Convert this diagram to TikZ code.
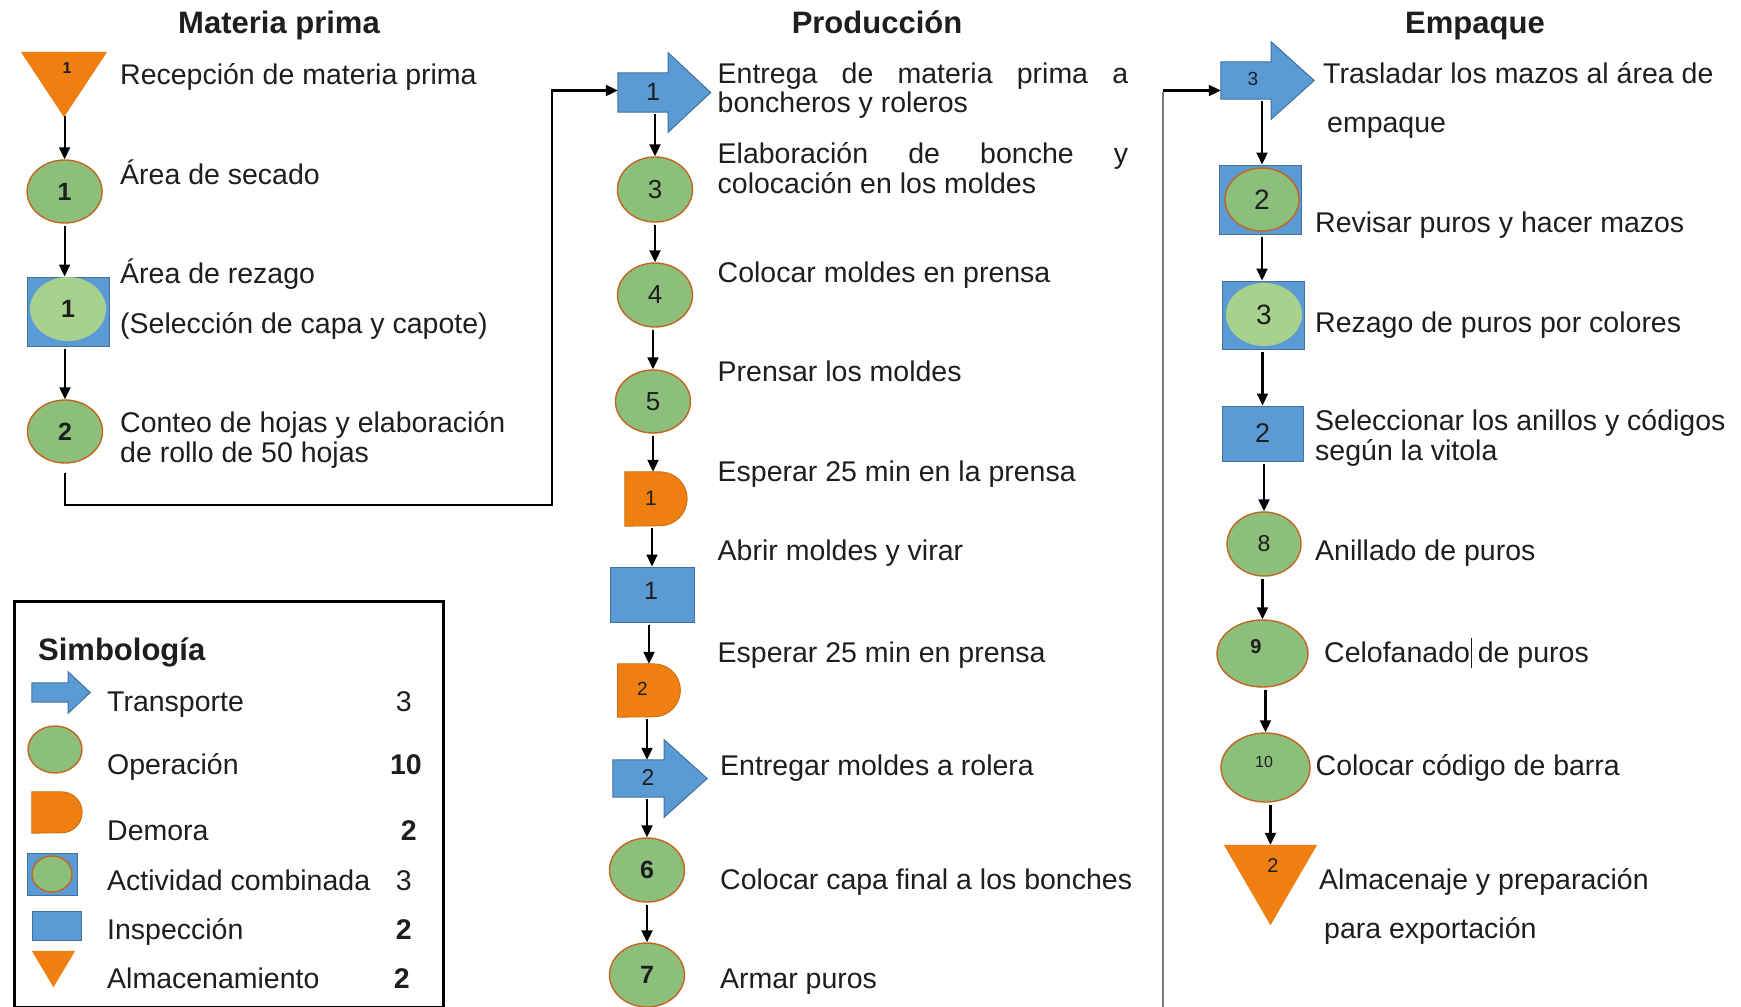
\documentclass[tikz,border=0pt]{standalone}
\usepackage{fontspec}
\setmainfont{Liberation Sans}
\usetikzlibrary{arrows.meta,shapes.geometric}

\definecolor{opgreen}{HTML}{8DBF7C}
\definecolor{lightgreen}{HTML}{A9D18E}
\definecolor{tblue}{HTML}{5B9BD5}
\definecolor{tblueline}{HTML}{41719C}
\definecolor{dorange}{HTML}{EE7F10}
\definecolor{brownline}{HTML}{C2651F}
\definecolor{linkgray}{HTML}{7A7A7A}
\definecolor{ink}{HTML}{1E1E1E}

\pgfdeclarelayer{back}
\pgfsetlayers{back,main}

\newcommand\fsz[1]{\fontsize{#1}{#1}\selectfont}
% block arrow (transport) around a body node: #1 node, #2 head extent, #3 head length
\newcommand\transportoutline[3]{%
  \begin{pgfonlayer}{back}
  \path[tshape] (#1.south west) -- (#1.north west) -- (#1.north east)
    -- ([yshift=#2]#1.north east) -- ([xshift=#3]#1.east)
    -- ([yshift=-#2]#1.south east) -- (#1.south east) -- cycle;
  \end{pgfonlayer}}
% delay symbol: flat left part, half disc on the right; #2 radius
\newcommand\delayoutline[2]{%
  \begin{pgfonlayer}{back}
  \path[dshape] (#1.north west) -- ([xshift=-#2]#1.north east)
    arc[start angle=90,end angle=-90,radius=#2] -- (#1.south west) -- cycle;
  \end{pgfonlayer}}
% storage symbol: downward triangle filling the node box
\newcommand\storageoutline[1]{%
  \begin{pgfonlayer}{back}
  \path[sshape] (#1.north west) -- (#1.north east) -- (#1.south) -- cycle;
  \end{pgfonlayer}}

\begin{document}
\begin{tikzpicture}[x=1pt,y=-1pt,
  every node/.style={inner sep=0pt, text=ink},
  tipstyle/.style={-{Triangle[length=12pt,width=11pt]}},
  flow/.style={tipstyle, line width=2.1pt, shorten <=2pt},
  opnode/.style={ellipse, fill=opgreen, draw=brownline, line width=1.4pt},
  lightop/.style={ellipse, fill=lightgreen},
  inspnode/.style={rectangle, fill=tblue, draw=tblueline, line width=1pt},
  combbox/.style={rectangle, fill=tblue, draw=tblueline, line width=1pt},
  tshape/.style={fill=tblue, draw=tblueline, line width=1pt, line join=miter},
  dshape/.style={fill=dorange, draw=dorange!85!black, line width=0.8pt},
  sshape/.style={fill=dorange},
  lbl/.style={anchor=base west, font=\fsz{28.5}},
  hdr/.style={anchor=base, font=\bfseries\fsz{31}},
  cnt/.style={anchor=base east, font=\fsz{28.5}},
]
\useasboundingbox (0,0) rectangle (1741,1007);
\begin{pgfonlayer}{back}
  \fill[white] (0,0) rectangle (1741,1007);
\end{pgfonlayer}

% ---------- headings ----------
\node[hdr] (hmp) at (279,33) {Materia prima};
\node[hdr] (hpr) at (877,33) {Producción};
\node[hdr] (hem) at (1475,33) {Empaque};

% ---------- Materia prima ----------
\node[minimum width=86, minimum height=65] (s1) at (64,84.5) {};
\storageoutline{s1}
\node[font=\bfseries\fsz{16}] (s1n) at (67,68) {1};
\node[opnode, minimum width=75, minimum height=63, font=\bfseries\fsz{25}] (o1) at (64.6,191.5) {1};
\node[combbox, minimum width=82, minimum height=69] (c1) at (68,311.5) {};
\node[lightop, minimum width=76, minimum height=64, font=\bfseries\fsz{25}] (c1e) at (68,309) {1};
\node[opnode, minimum width=75, minimum height=63, font=\bfseries\fsz{25}] (o2) at (65,431.5) {2};

\node[lbl] (m1t) at (120,84) {Recepción de materia prima};
\node[lbl] (m2t) at (120,184) {Área de secado};
\node[lbl] (m3t) at (120,283) {Área de rezago};
\node[lbl] (m4t) at (120,333) {(Selección de capa y capote)};
\node[lbl] (m5t) at (120,432) {Conteo de hojas y elaboración};
\node[lbl] (m6t) at (120,462) {de rollo de 50 hojas};

\draw[flow] (s1.south) -- (s1.south -| o1.north) -- (o1.north);
\draw[flow] (o1.south -| o1.north) -- (o1.north |- c1.north);
\draw[flow] (c1.south -| o2.north) -- (o2.north);

% ---------- Producción ----------
\node[minimum width=50, minimum height=39] (pt1) at (643,92.5) {};
\transportoutline{pt1}{20pt}{42.5pt}
\node[font=\fsz{25}] (pt1n) at (653,92) {1};
\node[opnode, minimum width=75, minimum height=65, font=\fsz{26}] (o3) at (655,189.5) {3};
\node[opnode, minimum width=75, minimum height=64, font=\fsz{26}] (o4) at (655,295) {4};
\node[opnode, minimum width=75, minimum height=63, font=\fsz{26}] (o5) at (653,401.5) {5};
\node[minimum width=62, minimum height=54] (pd1) at (656,499) {};
\delayoutline{pd1}{27pt}
\node[font=\fsz{21}] (pd1n) at (651,498) {1};
\node[inspnode, minimum width=84, minimum height=55] (pi1) at (652,594.5) {};
\node[font=\fsz{25}] (pi1n) at (651,591) {1};
\node[minimum width=62.5, minimum height=53] (pd2) at (649,690.5) {};
\delayoutline{pd2}{26.5pt}
\node[font=\fsz{19}] (pd2n) at (642.5,689) {2};
\node[minimum width=51, minimum height=37] (pt2) at (638.5,778.5) {};
\transportoutline{pt2}{20pt}{43pt}
\node[font=\fsz{23}] (pt2n) at (648,777) {2};
\node[opnode, minimum width=75, minimum height=64, font=\bfseries\fsz{25}] (o6) at (647,870) {6};
\node[opnode, minimum width=75, minimum height=64, font=\bfseries\fsz{25}] (o7) at (647,975) {7};

\node[lbl] (p1t) at (717.5,83) {\makebox[410.5pt][s]{Entrega de materia prima a}};
\node[lbl] (p2t) at (717.5,112) {boncheros y roleros};
\node[lbl] (p3t) at (717.5,163) {\makebox[410.5pt][s]{Elaboración de bonche y}};
\node[lbl] (p4t) at (717.5,193) {colocación en los moldes};
\node[lbl] (p5t) at (717.5,282) {Colocar moldes en prensa};
\node[lbl] (p6t) at (717.5,381) {Prensar los moldes};
\node[lbl] (p7t) at (717.5,481) {Esperar 25 min en la prensa};
\node[lbl] (p8t) at (717.5,560) {Abrir moldes y virar};
\node[lbl] (p9t) at (717.5,662) {Esperar 25 min en prensa};
\node[lbl] (p10t) at (720,775) {Entregar moldes a rolera};
\node[lbl] (p11t) at (720,889) {Colocar capa final a los bonches};
\node[lbl] (p12t) at (720,988) {Armar puros};

\draw[flow] (pt1.south -| o3.north) -- (o3.north);
\draw[flow] (o3.south -| o4.north) -- (o4.north);
\draw[flow] (o4.south -| o5.north) -- (o5.north);
\draw[flow] (o5.south) -- (o5.south |- pd1.north);
\draw[flow] (pd1.south -| pi1.north) -- (pi1.north);
\draw[flow] (pi1.south -| pd2.north) -- (pd2.north);
\draw[flow] (pd2.south -| o6.north) -- (o6.north |- pt2.north);
\draw[flow] (pt2.south -| o6.north) -- (o6.north);
\draw[flow] (o6.south) -- (o7.north);

% link from raw material to production
\coordinate (m1) at (552,505);
\draw[tipstyle, line width=2.1pt, shorten <=9pt] (o2.south) |- (m1) |- ([yshift=2pt]pt1.west);

% ---------- Empaque ----------
\node[minimum width=50, minimum height=37] (pe3) at (1246,80.5) {};
\transportoutline{pe3}{20pt}{43pt}
\node[font=\fsz{19}] (pe3n) at (1253,79) {3};
\node[combbox, minimum width=82, minimum height=69] (c2) at (1260,199.5) {};
\node[opnode, minimum width=74, minimum height=63, font=\fsz{28}] (c2e) at (1262,199.5) {2};
\node[combbox, minimum width=82, minimum height=68] (c3) at (1263,315) {};
\node[lightop, minimum width=76, minimum height=63, font=\fsz{28}] (c3e) at (1264,314.5) {3};
\node[inspnode, minimum width=81, minimum height=55, font=\fsz{27}] (pi2) at (1262.5,433.5) {2};
\node[opnode, minimum width=74, minimum height=64, font=\fsz{23}] (o8) at (1264,544) {8};
\node[opnode, minimum width=91, minimum height=67] (o9) at (1262.5,653.5) {};
\node[font=\bfseries\fsz{20}] (o9n) at (1256,647) {9};
\node[opnode, minimum width=89, minimum height=69] (o10) at (1265.5,767.5) {};
\node[font=\fsz{16}] (o10n) at (1264,762) {10};
\node[minimum width=93, minimum height=80] (s2) at (1270.5,885) {};
\storageoutline{s2}
\node[font=\fsz{20}] (s2n) at (1273,866) {2};

\node[lbl] (e1t) at (1323,83) {Trasladar los mazos al área de};
\node[lbl] (e2t) at (1327,132) {empaque};
\node[lbl] (e3t) at (1315,232) {Revisar puros y hacer mazos};
\node[lbl] (e4t) at (1315,332) {Rezago de puros por colores};
\node[lbl] (e5t) at (1315,430) {Seleccionar los anillos y códigos};
\node[lbl] (e6t) at (1315,460) {según la vitola};
\node[lbl] (e7t) at (1315,560) {Anillado de puros};
\node[lbl] (e8t) at (1324,662) {Celofanado de puros};
\draw[ink, line width=0.9pt] (1471,638) -- (1471,668);
\node[lbl] (e9t) at (1315.5,775) {Colocar código de barra};
\node[lbl] (e10t) at (1319,889) {Almacenaje y preparación};
\node[lbl] (e11t) at (1324,938) {para exportación};

\draw[flow] (pe3.south -| c2e.north) -- (c2.north -| c2e.north);
\draw[flow] (c2.south -| c2e.north) -- (c3.north -| c2e.north);
\draw[flow] (c3.south -| pi2.north) -- (pi2.north);
\draw[flow] (pi2.south -| o8.north) -- (o8.north);
\draw[flow] (o8.south -| o9.north) -- (o9.north);
\draw[flow] (o9.south -| o10.north) -- (o10.north);
\draw[flow] (o10.south -| s2.north) -- (s2.north);

% link from production to packing: grey riser, black entry arrow
\coordinate (m2) at (1163,1007);
\coordinate (m3) at (1163,90.5);
\draw[linkgray, line width=2.6pt] (m2) -- ([yshift=-1pt]m3);
\draw[tipstyle, line width=2.1pt] (m3) -- (m3 -| pe3.west);

% ---------- legend ----------
\node[draw, line width=2.6pt, minimum width=429, minimum height=406, anchor=north west] (legend) at (13,600) {};
\node[lbl, font=\bfseries\fsz{31}] (lgt) at (38,660) {Simbología};

\node[minimum width=36, minimum height=19] (lt) at (50,692.5) {};
\transportoutline{lt}{11pt}{22pt}
\node[opnode, minimum width=54, minimum height=47] (lo) at (55,749.5) {};
\node[minimum width=50, minimum height=41] (ld) at (57,812.5) {};
\delayoutline{ld}{20.5pt}
\node[combbox, minimum width=50, minimum height=42] (lc) at (52,874) {};
\node[opnode, minimum width=40, minimum height=36] (lce) at (52,874) {};
\node[inspnode, minimum width=49, minimum height=29] (li) at (56.5,925.5) {};
\node[minimum width=43, minimum height=36] (ls) at (53.5,969) {};
\storageoutline{ls}

\node[lbl] (l1t) at (107,711) {Transporte};
\node[lbl] (l2t) at (107,774) {Operación};
\node[lbl] (l3t) at (107,840) {Demora};
\node[lbl] (l4t) at (107,890) {Actividad combinada};
\node[lbl] (l5t) at (107,939) {Inspección};
\node[lbl] (l6t) at (107,988) {Almacenamiento};

\node[cnt] (l1n) at (412,711) {3};
\node[cnt, font=\bfseries\fsz{28.5}] (l2n) at (422,774) {10};
\node[cnt, font=\bfseries\fsz{28.5}] (l3n) at (417,840) {2};
\node[cnt] (l4n) at (412,890) {3};
\node[cnt, font=\bfseries\fsz{28.5}] (l5n) at (412,939) {2};
\node[cnt, font=\bfseries\fsz{28.5}] (l6n) at (410,988) {2};
\end{tikzpicture}
\end{document}
